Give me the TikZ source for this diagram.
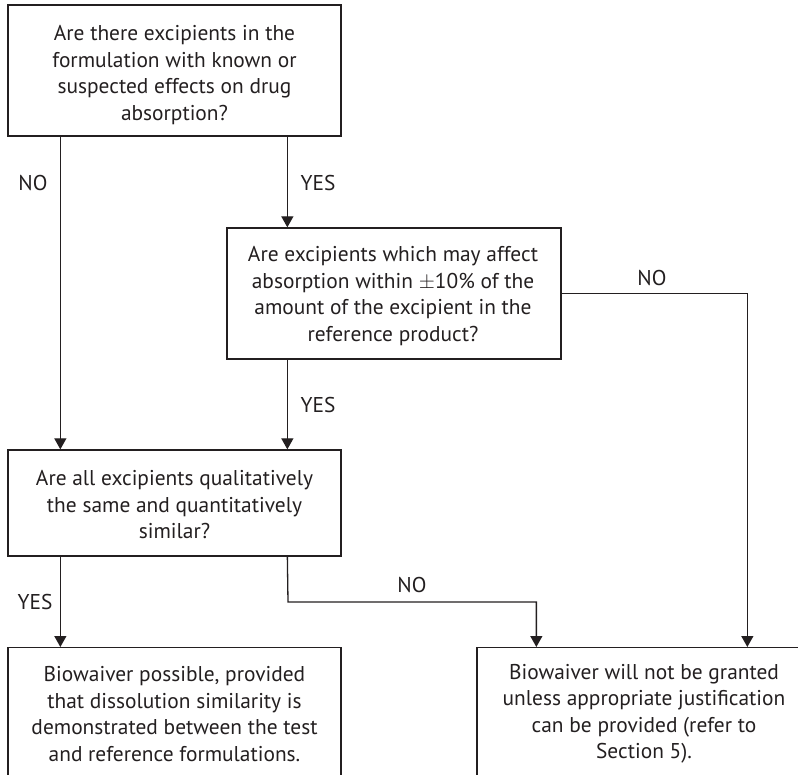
\documentclass[tikz,border=0pt]{standalone}
\usepackage{fontspec}
\setmainfont{PT Sans}
\usetikzlibrary{arrows.meta}
\definecolor{ink}{HTML}{231F20}
\begin{document}
\begin{tikzpicture}[x=1pt,y=-1pt,
  box/.style={draw=ink,line width=1.3pt,inner sep=0pt},
  txt/.style={text=ink,align=center,inner sep=0pt,font=\fontsize{21.4}{26.5}\selectfont},
  arr/.style={draw=ink,line width=1.3pt,-{Triangle[length=11pt,width=12pt]}},
  lbl/.style={text=ink,inner sep=0pt,font=\fontsize{21.4}{26}\selectfont}]
\useasboundingbox (0,0) rectangle (798,775);
\node[box,minimum width=333pt,minimum height=131pt] (b1) at (174.5,70.5) {};
\node[box,minimum width=334pt,minimum height=131pt] (b2) at (394,293.5) {};
\node[box,minimum width=333pt,minimum height=106pt] (b3) at (174.5,503) {};
\node[box,minimum width=333pt,minimum height=150pt,anchor=north] (b4) at (174.5,647) {};
\node[box,minimum width=334pt,minimum height=150pt,anchor=north] (b5) at (644,647) {};
\node[txt] (t1) at (174.5,75)
  {Are there excipients in the\\formulation with known or\\suspected effects on drug\\absorption?};
\node[txt] (t2) at (393,296)
  {Are excipients which may affect\\absorption within $\pm$10\% of the\\amount of the excipient in the\\reference product?};
\node[txt] (t3) at (174.5,505)
  {Are all excipients qualitatively\\the same and quantitatively\\similar?};
\node[txt] (t4) at (174.5,714)
  {Biowaiver possible, provided\\that dissolution similarity is\\demonstrated between the test\\and reference formulations.};
\node[txt] (t5) at (644,714)
  {Biowaiver will not be granted\\unless appropriate justification\\can be provided (refer to\\Section 5).};
% connectors
\draw[arr] ([xshift=53pt]b1.south west) -- ([xshift=53pt]b3.north west);
\draw[arr] ([xshift=280pt]b1.south west) -- ([xshift=280pt]b1.south west |- b2.north);
\draw[arr] ([xshift=280pt]b3.north west |- b2.south) -- ([xshift=280pt]b3.north west);
\draw[arr] (b2.east) -| ([xshift=271pt]b5.north west);
\draw[arr] ([xshift=53pt]b3.south west) -- ([xshift=53pt]b4.north west);
\coordinate (k) at (288,602);
\draw[arr] ([xshift=280pt]b3.south west) -- (k) -| ([xshift=60pt]b5.north west);
% labels
\node[lbl] (n1) at (33,183) {NO};
\node[lbl] (y1) at (318,183) {YES};
\node[lbl] (n2) at (652,278) {NO};
\node[lbl] (y2) at (318,405) {YES};
\node[lbl] (y3) at (35,602) {YES};
\node[lbl] (n3) at (412,585) {NO};
\end{tikzpicture}
\end{document}
